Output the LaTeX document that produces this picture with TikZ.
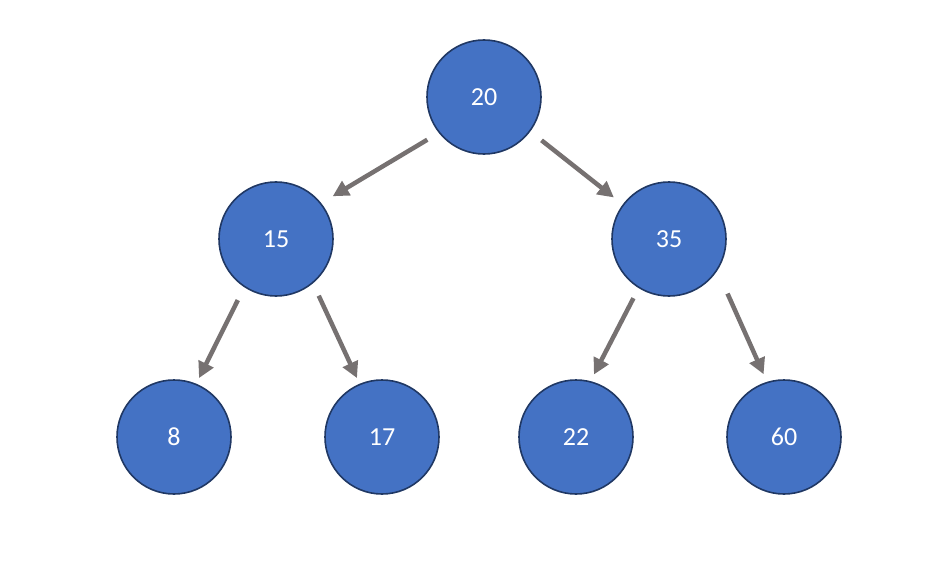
\documentclass[tikz,border=0pt]{standalone}
\usepackage{fontspec}
\setmainfont{Carlito}
\usetikzlibrary{positioning,arrows.meta}

\definecolor{nodeblue}{HTML}{4472C4}
\definecolor{nodeedge}{HTML}{203864}
\definecolor{arrowgray}{HTML}{767171}

\tikzstyle{key} = [circle, draw=nodeedge, line width=1.6pt, fill=nodeblue,
	text=white, minimum size=114pt, inner sep=0pt,
	font=\fontsize{26}{30}\selectfont]
\tikzstyle{link} = [-{Triangle[length=16pt,width=16pt]}, draw=arrowgray,
	line width=4.5pt]

\begin{document}
\begin{tikzpicture}[on grid, auto]
	\useasboundingbox (0,0) rectangle (945pt,-567pt);
	\node [key] (R) at (484pt,-97pt) {20};
	\node [key, below left=142pt and 208pt of R] (L) {15};
	\node [key, below right=142pt and 185pt of R] (RR) {35};
	\node [key, below left=198pt and 102pt of L] (LL) {8};
	\node [key, below right=198pt and 106pt of L] (LR) {17};
	\node [key, below left=198pt and 93pt of RR] (RL) {22};
	\node [key, below right=198pt and 115pt of RR] (RRR) {60};
	
	\draw[link]
	([shift={(217:71pt)}]R.center) -- ([shift={(37:71pt)}]L.center);
	\draw[link]
	([shift={(-37:72pt)}]R.center) -- ([shift={(143:69pt)}]RR.center);
	
	\draw[link]
	([shift={(-122:72pt)}]L.center) -- ([shift={(67:64pt)}]LL.center);
	\draw[link]
	([shift={(-53:71pt)}]L.center) -- ([shift={(113:64pt)}]LR.center);
	\draw[link]
	([shift={(-121:69pt)}]RR.center) -- ([shift={(74:65pt)}]RL.center);
	\draw[link]
	([shift={(-43:80pt)}]RR.center) -- ([shift={(108:66pt)}]RRR.center);
\end{tikzpicture}
\end{document}
